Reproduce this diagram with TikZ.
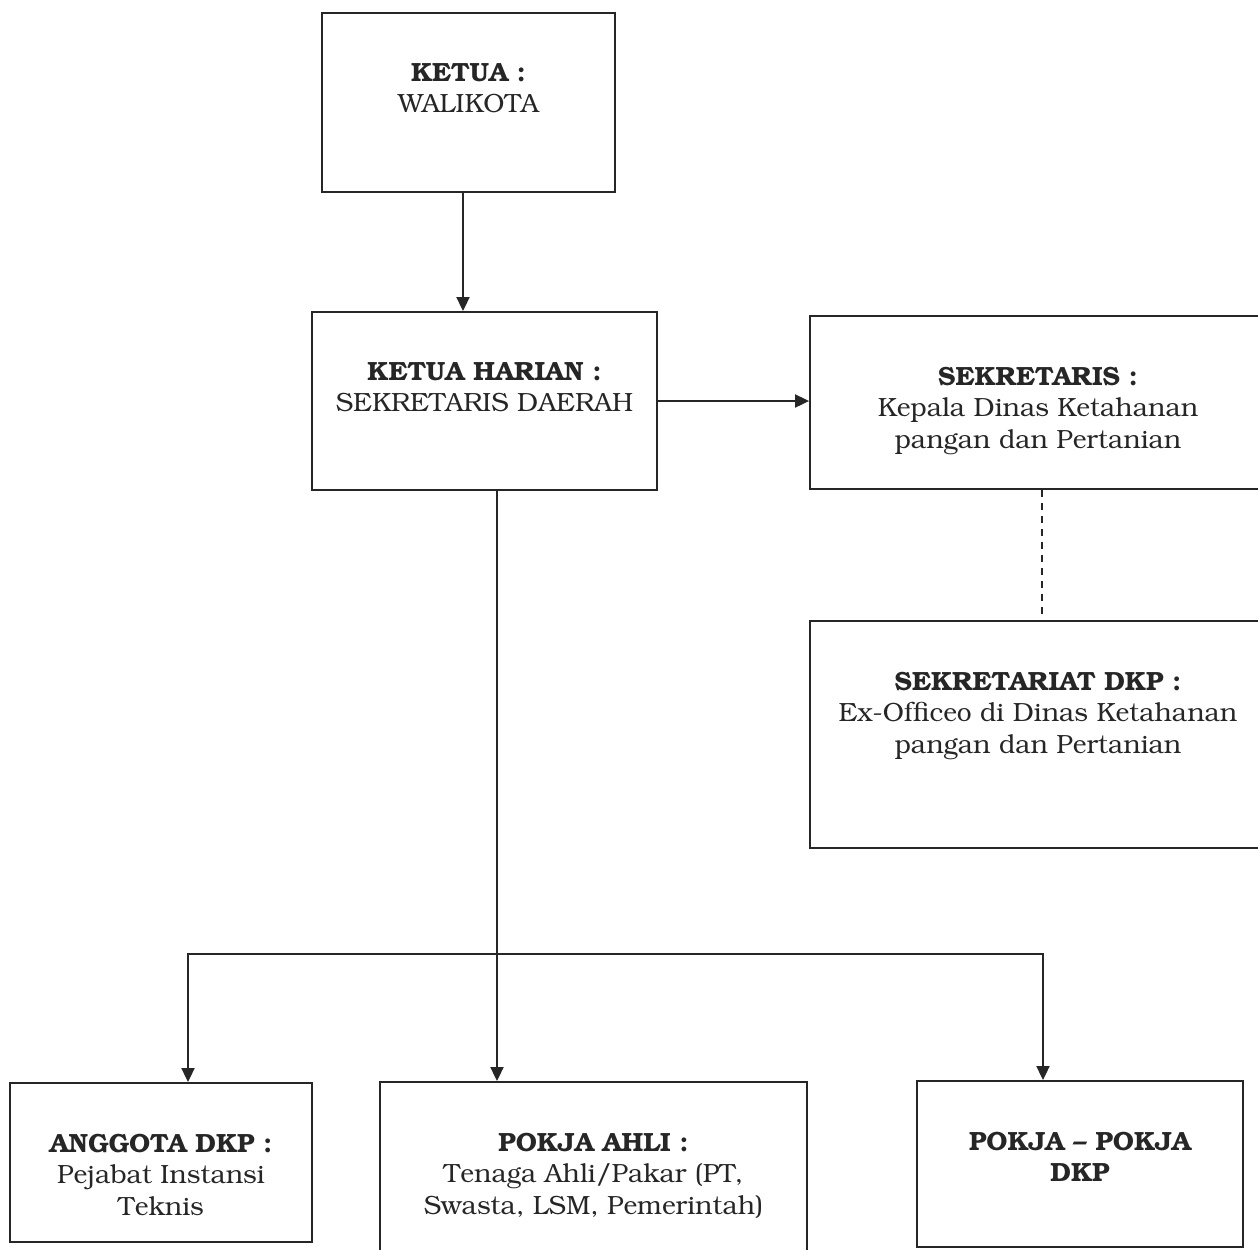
\documentclass[tikz,border=0pt]{standalone}
\usepackage[T1]{fontenc}
\usepackage{bookman}
\usetikzlibrary{arrows.meta, positioning}

\begin{document}
\begin{tikzpicture}[
    x=0.02cm, y=-0.02cm,
    unit/.style={rectangle, draw=black!85, line width=1.1pt, inner sep=0pt},
    lbl/.style={align=center, inner sep=0pt, text=black!85,
                font=\fontsize{15}{17.9}\selectfont},
    link/.style={line width=1.1pt, draw=black!85,
                 -{Triangle[length=0.28cm, width=0.26cm]}},
    dashlink/.style={line width=1.1pt, draw=black!85,
                     dash pattern=on 0.14cm off 0.12cm}
  ]
    \useasboundingbox (0,0) rectangle (1258,1249);

    % boxes
    \node[unit, minimum width=5.86cm, minimum height=3.58cm] (ketua) at (468.5,102.5) {};
    \node[unit, minimum width=6.9cm, minimum height=3.56cm] (harian) at (484.5,401) {};
    \node[unit, minimum width=9.12cm, minimum height=3.46cm] (sekr) at (1038,402.5) {};
    \node[unit, minimum width=9.12cm, minimum height=4.54cm] (sekretariat) at (1038,734.5) {};
    \node[unit, minimum width=6.04cm, minimum height=3.18cm] (anggota) at (161,1162.5) {};
    \node[unit, minimum width=8.54cm, minimum height=3.6cm] (ahli) at (593.5,1172) {};
    \node[unit, minimum width=6.52cm, minimum height=3.32cm] (pokja) at (1080,1164) {};

    % texts
    \node[lbl, below=1.02cm of ketua.north] (ketuaTxt)
      {\textbf{KETUA :}\\WALIKOTA};
    \node[lbl, below=1.02cm of harian.north] (harianTxt)
      {\textbf{KETUA HARIAN :}\\SEKRETARIS DAERAH};
    \node[lbl, below=1.02cm of sekr.north] (sekrTxt)
      {\textbf{SEKRETARIS :}\\Kepala Dinas Ketahanan\\pangan dan Pertanian};
    \node[lbl, below=1.02cm of sekretariat.north] (sekretariatTxt)
      {\textbf{SEKRETARIAT DKP :}\\Ex-Officeo di Dinas Ketahanan\\pangan dan Pertanian};
    \node[lbl, below=1.02cm of anggota.north] (anggotaTxt)
      {\textbf{ANGGOTA DKP :}\\Pejabat Instansi\\Teknis};
    \node[lbl, below=1.02cm of ahli.north] (ahliTxt)
      {\textbf{POKJA AHLI :}\\Tenaga Ahli/Pakar (PT,\\Swasta, LSM, Pemerintah)};
    \node[lbl, below=1.02cm of pokja.north] (pokjaTxt)
      {\textbf{POKJA -- POKJA}\\\textbf{DKP}};

    % connectors
    \coordinate (trunk) at (497,954);
    \coordinate (busL) at (188,954);
    \coordinate (busR) at (1043,954);
    \draw[link] ([xshift=-0.11cm]ketua.south) -- ([xshift=-0.43cm]harian.north);
    \draw[link] (harian.east) -- (harian.east -| sekr.west);
    \draw[dashlink] ([xshift=0.08cm]sekr.south) -- ([xshift=0.08cm]sekretariat.north);
    \draw[link] (harian.south -| trunk) -- (ahli.north -| trunk);
    \draw[link, {Triangle[length=0.28cm, width=0.26cm]}-{Triangle[length=0.28cm, width=0.26cm]}]
      (anggota.north -| busL) -- (busL) -- (busR) -- (pokja.north -| busR);
  \end{tikzpicture}
\end{document}
